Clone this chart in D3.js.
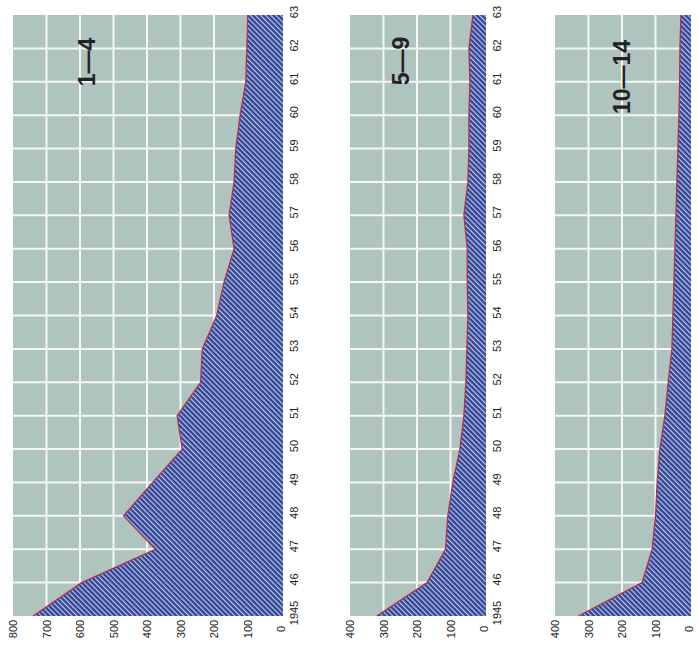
<!DOCTYPE html>
<html><head><meta charset="utf-8">
<script src="https://cdn.jsdelivr.net/npm/d3@7/dist/d3.min.js"></script>
<style>body{margin:0;background:#fff}svg{display:block}text{font-family:"Liberation Sans",Arial,sans-serif;fill:#222}</style>
</head><body>
<svg id="c" width="699" height="651"></svg>
<script>
const years = d3.range(1945, 1964);
const yearLabels = ["1945","46","47","48","49","50","51","52","53","54","55","56","57","58","59","60","61","62","63"];
const age1to4 = [740, 595, 375, 470, 383, 295, 310, 240, 235, 192, 170, 140, 155, 140, 135, 122, 105, 102, 100];
const age5to9 = [320, 170, 115, 108, 93, 72, 60, 54, 51, 48, 50, 50, 60, 48, 45, 45, 42, 45, 33];
const age10to14 = [330, 140, 110, 100, 95, 87, 72, 62, 51, 48, 45, 42, 39, 36, 33, 30, 28, 27, 24];
const panelTitles = ["1\u20144", "5\u20149", "10\u201414"];
const panelMax = [800, 400, 400];
const valueTicks = [[800,700,600,500,400,300,200,100,0],[400,300,200,100,0],[400,300,200,100,0]];

const panels = [
  {data: age1to4, left: 13, right: 281, title: panelTitles[0], tx: 87, ty: 62, max: panelMax[0], ticks: valueTicks[0], yearAxis: true},
  {data: age5to9, left: 350, right: 484, title: panelTitles[1], tx: 401, ty: 61, max: panelMax[1], ticks: valueTicks[1], yearAxis: true},
  {data: age10to14, left: 555, right: 689, title: panelTitles[2], tx: 622, ty: 77, max: panelMax[2], ticks: valueTicks[2], yearAxis: false}
];
const plotTop = 15, plotBottom = 616;
const svg = d3.select("#c");
const defs = svg.append("defs");
const pat = defs.append("pattern").attr("id","hatch").attr("patternUnits","userSpaceOnUse")
  .attr("width",3.6).attr("height",3.6).attr("patternTransform","rotate(-45)");
pat.append("rect").attr("width",3.6).attr("height",3.6).attr("fill","#34479a");
pat.append("rect").attr("x",0).attr("width",1.1).attr("height",3.6).attr("fill","#c4cde2");

const y = d3.scaleLinear().domain([1945,1963]).range([plotBottom, plotTop]);

panels.forEach(p => {
  const x = d3.scaleLinear().domain([p.max, 0]).range([p.left, p.right]);
  const g = svg.append("g");
  g.append("rect").attr("x", p.left).attr("y", plotTop).attr("width", p.right - p.left).attr("height", plotBottom - plotTop).attr("fill", "#afc3bf");
  g.selectAll("line.v").data(p.ticks.filter(t => t > 0 && t < p.max)).join("line")
    .attr("x1", d => x(d)).attr("x2", d => x(d)).attr("y1", plotTop).attr("y2", plotBottom)
    .attr("stroke", "#f4f7f6").attr("stroke-width", 2);
  g.selectAll("line.h").data(years.slice(1, -1)).join("line")
    .attr("y1", d => y(d)).attr("y2", d => y(d)).attr("x1", p.left).attr("x2", p.right)
    .attr("stroke", "#f4f7f6").attr("stroke-width", 2);
  const pts = years.map((yr, i) => ({yr, v: p.data[i]}));
  const area = d3.area().y(d => y(d.yr)).x0(x(0) + 2).x1(d => x(d.v));
  g.append("path").datum(pts).attr("d", area).attr("fill", "url(#hatch)");
  const line = d3.line().y(d => y(d.yr)).x(d => x(d.v));
  g.append("path").datum(pts).attr("d", line).attr("fill", "none").attr("stroke", "#b0304a").attr("stroke-width", 1.3);
  g.selectAll("text.val").data(p.ticks).join("text")
    .attr("transform", d => `translate(${x(d)},629) rotate(-90)`)
    .attr("text-anchor", "middle").attr("dominant-baseline", "central")
    .attr("font-size", 11).text(d => d);
  if (p.yearAxis) {
    g.selectAll("text.yr").data(years).join("text")
      .attr("transform", (d, i) => `translate(${p.right + 13},${y(d) - 3}) rotate(-90)`)
      .attr("text-anchor", "middle").attr("dominant-baseline", "central")
      .attr("font-size", 11).text((d, i) => yearLabels[i]);
  }
  svg.append("text").attr("transform", `translate(${p.tx},${p.ty}) rotate(-90)`)
    .attr("text-anchor", "middle").attr("dominant-baseline", "central")
    .attr("font-size", 23).attr("font-weight", "bold").attr("fill", "#111").text(p.title);
});
</script>
</body></html>
